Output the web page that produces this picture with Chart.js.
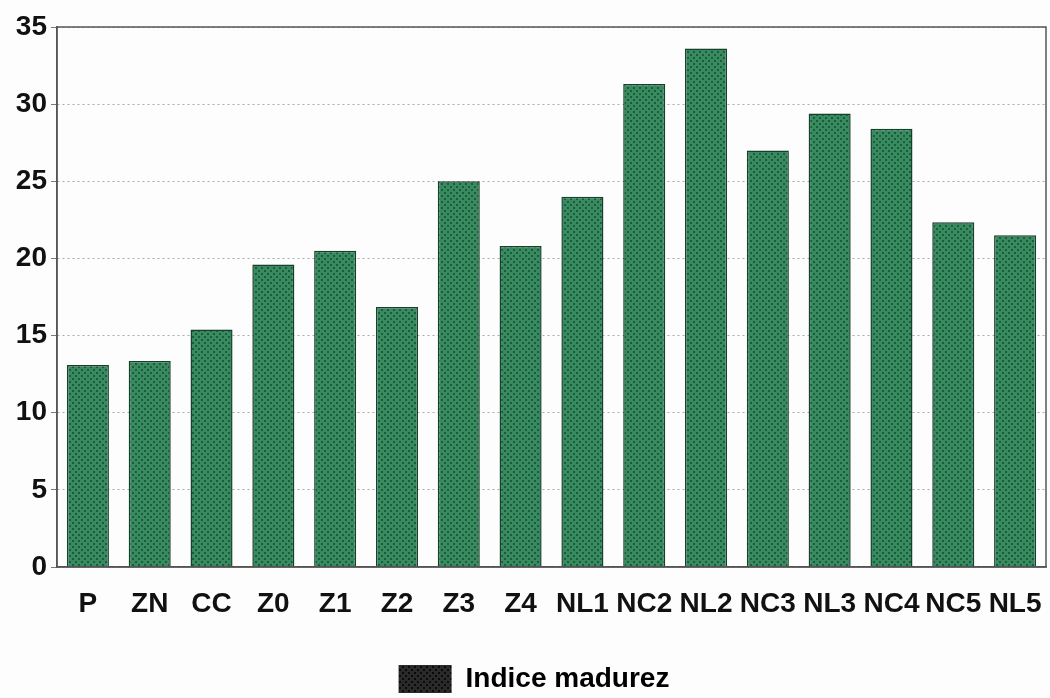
<!DOCTYPE html>
<html>
<head>
<meta charset="utf-8">
<script src="https://cdn.jsdelivr.net/npm/chart.js@4.4.1/dist/chart.umd.min.js"></script>
<style>
  html, body { margin: 0; padding: 0; background: #fdfdfd; }
  #wrap { width: 1050px; height: 698px; position: relative; }
</style>
</head>
<body>
<div id="wrap"><canvas id="chart"></canvas></div>
<script>
const CATEGORIES = ["P", "ZN", "CC", "Z0", "Z1", "Z2", "Z3", "Z4", "NL1", "NC2", "NL2", "NC3", "NL3", "NC4", "NC5", "NL5"];
const INDICE_MADUREZ = [13.1, 13.35, 15.4, 19.6, 20.5, 16.85, 25.0, 20.8, 24.0, 31.3, 33.6, 27.0, 29.4, 28.4, 22.35, 21.5];
const SERIES_LABEL = "Indice madurez";
const Y_MAX = 35;
const Y_STEP = 5;

const FONT = "'Liberation Sans', Arial, Helvetica, sans-serif";

// crosshatch fill like the printed original
function makeHatch(base, dot) {
  const c = document.createElement("canvas");
  c.width = 6; c.height = 6;
  const g = c.getContext("2d");
  g.fillStyle = base;
  g.fillRect(0, 0, 6, 6);
  g.fillStyle = dot;
  g.fillRect(0, 0, 2, 2);
  g.fillRect(3, 3, 2, 2);
  return g.createPattern(c, "repeat");
}

const ctx = document.getElementById("chart").getContext("2d");
const barFill = makeHatch("#378b5f", "#1e5a3e");
const legendFill = makeHatch("#2a2a2a", "#0a0a0a");

// box around the plot area
const frame = {
  id: "frame",
  afterDraw(chart) {
    const a = chart.chartArea, c = chart.ctx;
    c.save();
    c.strokeStyle = "#555";
    c.lineWidth = 1.5;
    c.strokeRect(a.left, a.top, a.right - a.left, a.bottom - a.top);
    c.restore();
  },
};

// the legend sits a little right of centre and low in the original
const legendNudge = {
  id: "legendNudge",
  afterLayout(chart) {
    const lg = chart.legend;
    lg.left += 11; lg.right += 11;
    lg.top += 5; lg.bottom += 5;
  },
};

new Chart(ctx, {
  type: "bar",
  data: {
    labels: CATEGORIES,
    datasets: [{
      label: SERIES_LABEL,
      data: INDICE_MADUREZ,
      backgroundColor: barFill,
      borderColor: "#173f2b",
      borderWidth: 1.5,
      categoryPercentage: 1,
      barPercentage: 0.68,
    }],
  },
  options: {
    responsive: true,
    maintainAspectRatio: false,
    animation: false,
    layout: { padding: { left: 0, right: 4, top: 27, bottom: 0 } },
    plugins: {
      tooltip: { enabled: false },
      legend: {
        position: "bottom",
        labels: {
          boxWidth: 53,
          boxHeight: 28,
          padding: 0,
          color: "#111",
          font: { family: FONT, size: 28, weight: "bold" },
          generateLabels: () => [{
            text: SERIES_LABEL,
            fillStyle: legendFill,
            strokeStyle: "#000",
            lineWidth: 0,
            datasetIndex: 0,
          }],
        },
      },
    },
    scales: {
      x: {
        afterFit: (s) => { s.height = 93; },
        grid: { display: true, drawOnChartArea: false, drawTicks: true, tickLength: 18, tickColor: "rgba(0,0,0,0)" },
        border: { color: "#555", width: 1.5 },
        ticks: {
          color: "#111",
          padding: 2,
          maxRotation: 0,
          minRotation: 0,
          autoSkip: false,
          font: { family: FONT, size: 28, weight: "bold" },
        },
      },
      y: {
        min: 0,
        max: Y_MAX,
        afterFit: (s) => { s.width = 57; },
        border: { color: "#555", width: 1.5, display: true, dash: [2, 3] },
        grid: {
          color: "#aaa",
          lineWidth: 1,
          tickLength: 6,
          tickColor: "#777",
          drawTicks: true,
        },
        ticks: {
          stepSize: Y_STEP,
          color: "#111",
          padding: 4,
          font: { family: FONT, size: 28, weight: "bold" },
        },
      },
    },
  },
  plugins: [frame, legendNudge],
});
</script>
</body>
</html>
